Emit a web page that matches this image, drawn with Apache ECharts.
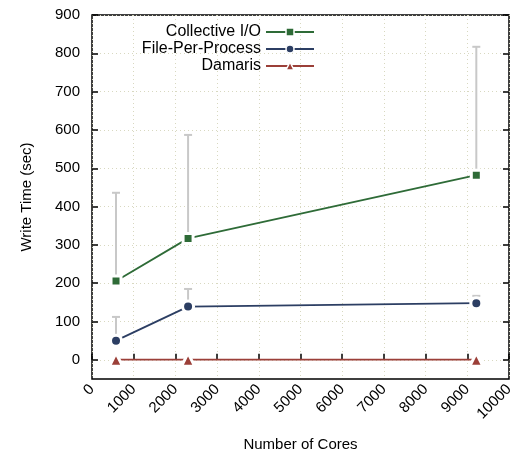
<!DOCTYPE html>
<html>
<head>
<meta charset="utf-8">
<script src="https://cdn.jsdelivr.net/npm/echarts@6/dist/echarts.min.js"></script>
<style>
  html, body { margin: 0; padding: 0; background: #fff; }
  #chart { width: 513px; height: 457px; }
</style>
</head>
<body>
<div id="chart"></div>
<script>
// 数据
const cores = [576, 2304, 9216];
const collectiveIO = [206, 317, 482];
const collectiveHigh = [436, 587, 817];
const filePerProcess = [50, 139, 148];
const filePerProcessHigh = [112, 185, 167];
const damaris = [0.5, 0.5, 0.5];
const yTicks = [0, 100, 200, 300, 400, 500, 600, 700, 800, 900];

const FONT = 'Liberation Sans';
const GREEN = '#2e6b37';
const BLUE = '#2c3e63';
const RED = '#9b3f38';

const zip = (xs, ys) => xs.map((x, i) => [x, ys[i]]);
const errData = cores.map((x, i) => [x, collectiveIO[i], collectiveHigh[i]])
    .concat(cores.map((x, i) => [x, filePerProcess[i], filePerProcessHigh[i]]));

// 误差线
function renderErr(params, api) {
    const p = api.coord([api.value(0), api.value(1)]);
    const h = api.coord([api.value(0), api.value(2)]);
    const style = { stroke: '#c8c8c8', lineWidth: 2 };
    return {
        type: 'group',
        children: [
            { type: 'line', shape: { x1: p[0], y1: p[1], x2: h[0], y2: h[1] }, style },
            { type: 'line', shape: { x1: h[0] - 4, y1: h[1], x2: h[0] + 4, y2: h[1] }, style }
        ]
    };
}

const chart = echarts.init(document.getElementById('chart'), null, { renderer: 'canvas' });

const lineSeries = (name, data, color, symbol, size) => ({
    name,
    type: 'line',
    data: zip(cores, data),
    symbol,
    symbolSize: size,
    z: 3,
    lineStyle: { color, width: 1.8 },
    itemStyle: { color, borderColor: '#fff', borderWidth: 3 },
    emphasis: { disabled: true },
    animation: false
});

chart.setOption({
    animation: false,
    textStyle: { fontFamily: FONT },
    grid: {
        left: 92, right: 4, top: 15, bottom: 78,
        outerBoundsMode: 'none',
        containLabel: false,
        show: true, borderColor: '#000', borderWidth: 1.5
    },
    legend: {
        orient: 'vertical',
        right: 193,
        top: 19,
        align: 'right',
        itemGap: 1,
        itemWidth: 48,
        itemHeight: 10,
        itemStyle: { borderWidth: 1.5 },
        textStyle: { fontFamily: FONT, fontSize: 16, color: '#000' },
        data: ['Collective I/O', 'File-Per-Process', 'Damaris']
    },
    xAxis: {
        type: 'value',
        min: 0,
        max: 10000,
        interval: 1000,
        name: 'Number of Cores',
        nameLocation: 'middle',
        nameGap: 58,
        nameTextStyle: { fontFamily: FONT, fontSize: 15, color: '#000' },
        axisLine: { show: false },
        axisTick: { show: true, inside: true, length: 6, lineStyle: { color: '#000', width: 1.5 } },
        axisLabel: { rotate: 45, fontFamily: FONT, fontSize: 15, color: '#000', margin: 8, formatter: v => String(v) },
        splitLine: { show: true, lineStyle: { color: '#d8d8c0', type: [1, 3], width: 1 } }
    },
    yAxis: [{
        type: 'value',
        min: -50,
        max: 900,
        name: 'Write Time (sec)',
        nameLocation: 'middle',
        nameGap: 58,
        nameTextStyle: { fontFamily: FONT, fontSize: 15, color: '#000' },
        axisLine: { show: false },
        axisTick: { show: true, inside: true, length: 6, customValues: yTicks, lineStyle: { color: '#000', width: 1.5 } },
        axisLabel: { fontFamily: FONT, fontSize: 15, color: '#000', margin: 12, customValues: yTicks },
        splitLine: { show: true, lineStyle: { color: '#d8d8c0', type: [1, 3], width: 1 } }
    }, {
        type: 'value',
        position: 'right',
        min: -50,
        max: 900,
        axisLine: { show: false },
        axisTick: { show: true, inside: true, length: 6, customValues: yTicks, lineStyle: { color: '#000', width: 1.5 } },
        axisLabel: { show: false },
        splitLine: { show: false }
    }],
    series: [
        {
            type: 'custom',
            renderItem: renderErr,
            data: errData,
            encode: { x: 0, y: [1, 2] },
            z: 1,
            silent: true
        },
        lineSeries('Collective I/O', collectiveIO, GREEN, 'rect', 10),
        lineSeries('File-Per-Process', filePerProcess, BLUE, 'circle', 11),
        lineSeries('Damaris', damaris, RED, 'triangle', 13)
    ]
});
</script>
</body>
</html>
